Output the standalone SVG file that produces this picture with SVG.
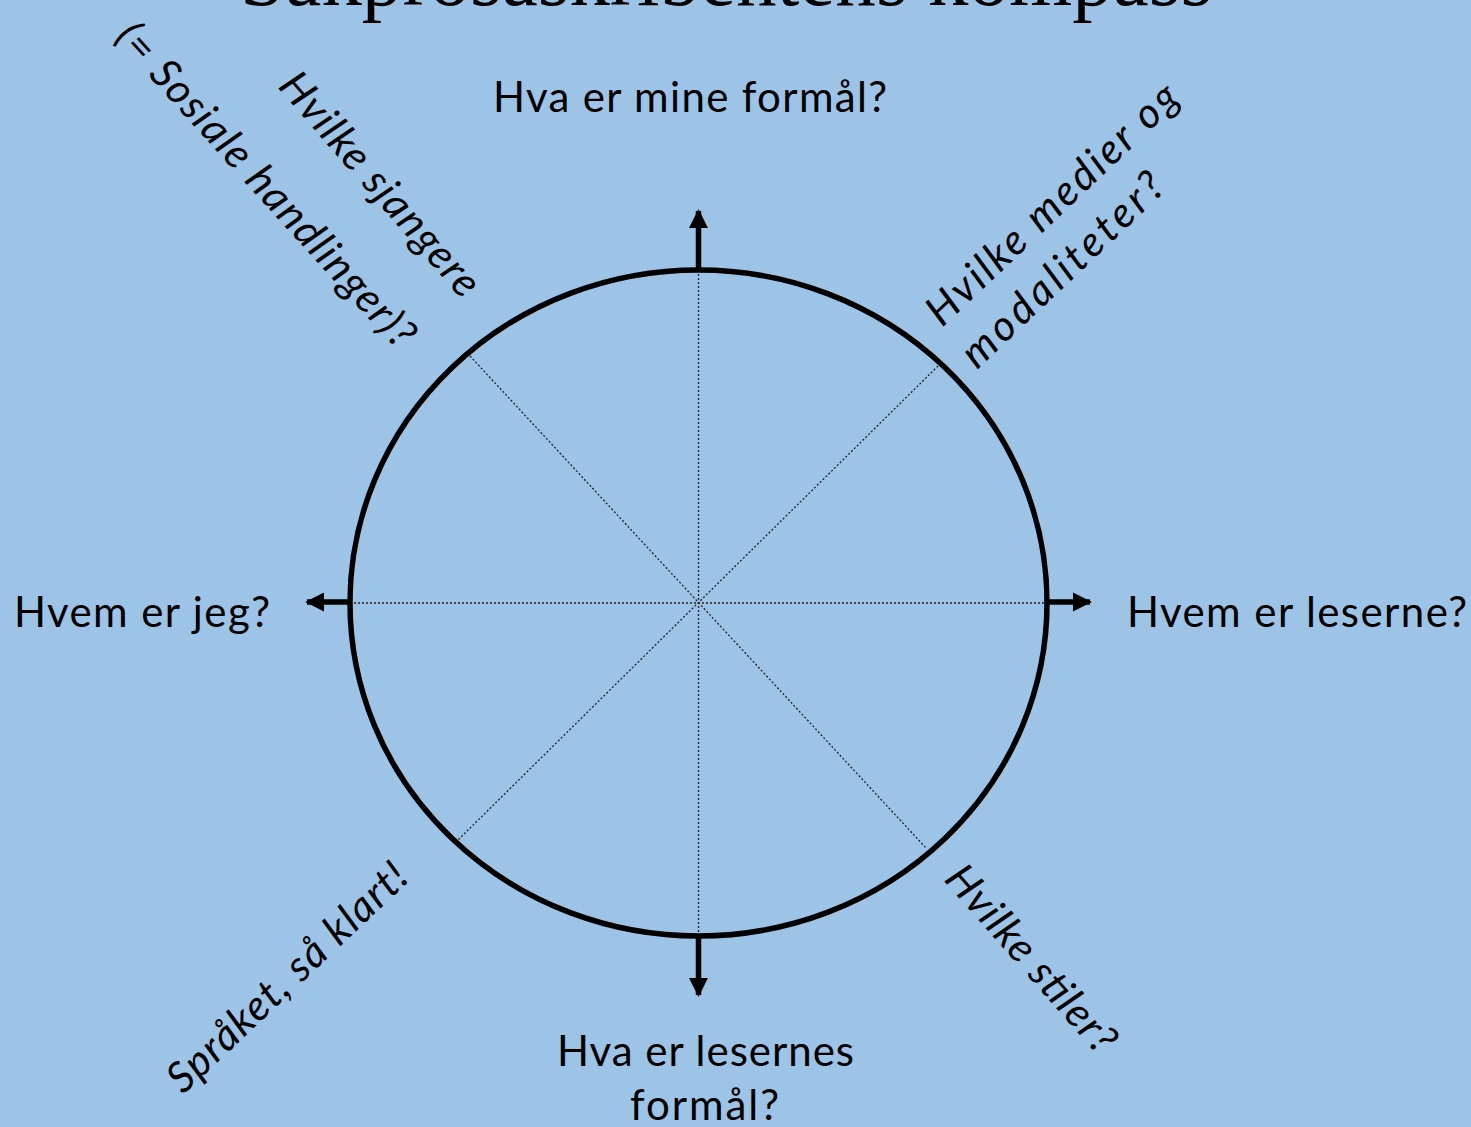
<svg xmlns="http://www.w3.org/2000/svg" width="1471" height="1127" viewBox="0 0 1471 1127">
<defs>
<style>
.t{font-family:Lato,"Open Sans","Liberation Sans",sans-serif;font-size:42px;fill:#000}
.i{font-style:italic}
.title{font-family:"Liberation Serif","DejaVu Serif",serif;font-size:82px;fill:#000}
.dot{stroke:#222;stroke-width:1.3;stroke-dasharray:2 2;fill:none}
.ax{stroke:#000;stroke-width:5.5;fill:none}
</style>
<marker id="ah" viewBox="0 0 10 10" refX="9" refY="5" markerWidth="3.5" markerHeight="3.5" orient="auto" markerUnits="strokeWidth">
<path d="M0,0 L10,5 L0,10 Z" fill="#000"/>
</marker>
</defs>
<rect width="1471" height="1127" fill="#9DC3E6"/>
<text class="title" x="240" y="5" textLength="972" lengthAdjust="spacingAndGlyphs">Sakprosaskribentens kompass</text>
<g id="connectors">
<line class="dot" x1="698.5" y1="270" x2="698.5" y2="936"/>
<line class="dot" x1="350" y1="603" x2="1047" y2="603"/>
<line class="dot" x1="470" y1="356" x2="926" y2="848"/>
<line class="dot" x1="938" y1="366" x2="458" y2="840"/>
<line class="ax" x1="698.5" y1="270" x2="698.5" y2="211" marker-end="url(#ah)"/>
<line class="ax" x1="350" y1="602" x2="307" y2="602" marker-end="url(#ah)"/>
<line class="ax" x1="1047" y1="602" x2="1090" y2="602" marker-end="url(#ah)"/>
<line class="ax" x1="698.5" y1="936" x2="698.5" y2="995" marker-end="url(#ah)"/>
</g>
<g id="compass">
<ellipse cx="698.5" cy="603" rx="348.5" ry="333" fill="none" stroke="#000" stroke-width="5.5"/>
</g>
<g id="n-formal"><text class="t" x="493" y="112" textLength="394">Hva er mine formål?</text></g>
<g id="n-jeg"><text class="t" x="14" y="627" textLength="256">Hvem er jeg?</text></g>
<g id="n-leserne"><text class="t" x="1127" y="627" textLength="340">Hvem er leserne?</text></g>
<g id="n-lesernes"><text class="t" x="557" y="1066" textLength="297">Hva er lesernes</text><text class="t" x="630" y="1120" textLength="149">formål?</text></g>
<g id="n-sjangere">
<text class="t i" transform="translate(277,87) rotate(49)" textLength="282">Hvilke sjangere</text>
<text class="t i" transform="translate(114,38) rotate(47.8)" textLength="422">(= Sosiale handlinger)?</text>
</g>
<g id="n-medier">
<text class="t i" transform="translate(942,328) rotate(-43.5)" textLength="330">Hvilke medier og</text>
<text class="t i" transform="translate(977,370) rotate(-43.5)" textLength="262">modaliteter?</text>
</g>
<g id="n-stiler"><text class="t i" transform="translate(943,880) rotate(48.6)" textLength="235">Hvilke stiler?</text></g>
<g id="n-sprak"><text class="t i" transform="translate(183,1095) rotate(-43.4)" textLength="313">Språket, så klart!</text></g>
</svg>
